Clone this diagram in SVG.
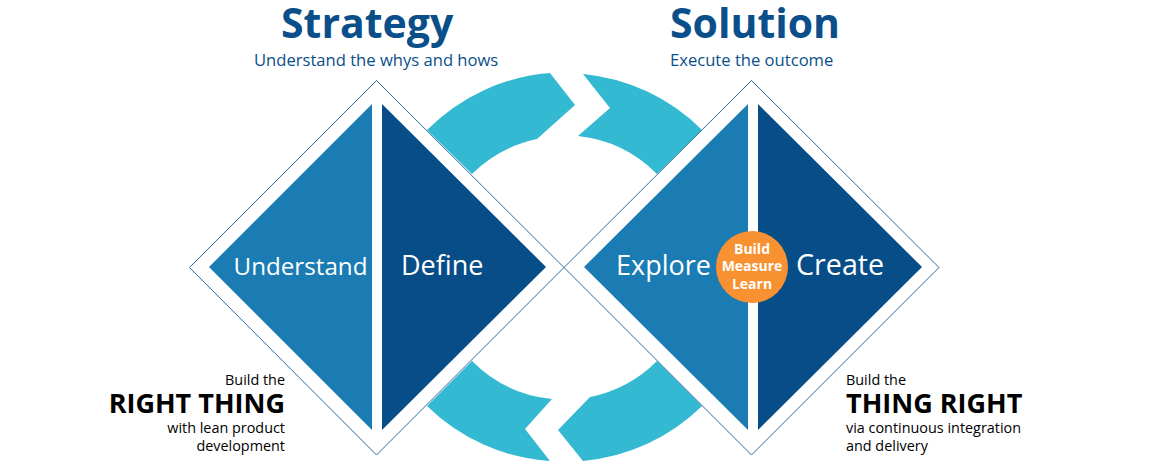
<svg xmlns="http://www.w3.org/2000/svg" width="1150" height="470" viewBox="0 0 1150 470">
<style>
text{font-family:"Open Sans","Noto Sans",sans-serif}
.title{font-size:41px;font-weight:700;fill:#0a4f8a}
.sub{font-size:16.600px;fill:#0a4f8a}
.lab{font-size:27px;fill:#fff}
.outline{fill:none;stroke:#2f6a9e;stroke-width:1}
.light{fill:#1b7cb4}
.dark{fill:#074d87}
.band{fill:#33b9d1}
.small{font-size:14.400px;fill:#000}
.big{font-size:27px;font-weight:700;fill:#000}
.bml{font-size:14px;font-weight:700;fill:#fff;text-anchor:middle}
</style>
<g id="connectors">
<path class="band" d="M427 130A194 194 0 0 1 550 73L575 105L537 139A131 131 0 0 0 472 174Z"/>
<path class="band" d="M583 74A194 194 0 0 1 702 130L657 174A131 131 0 0 0 578 136L610 108Z"/>
<path class="band" d="M427 406A194 194 0 0 0 550 461L525 429L552 399A131 131 0 0 1 472 361Z"/>
<path class="band" d="M702 406A194 194 0 0 1 583 461L558 430L590 397A131 131 0 0 0 657 361Z"/>
</g>
<g id="diamond-strategy">
<path class="outline" d="M376.500 80.500L564 267.500L376.500 455L189.500 267.500Z"/>
</g>
<g id="diamond-solution">
<path class="outline" d="M751.500 80.500L939 267.500L751.500 455L564 267.500Z"/>
</g>
<g id="understand">
<path class="light" d="M372 104V430L209 267Z"/>
<text class="lab" x="233.500" y="274.500" style="font-size:24.200px">Understand</text>
</g>
<g id="define">
<path class="dark" d="M382 104L546 267L382 430Z"/>
<text class="lab" x="401" y="275">Define</text>
</g>
<g id="explore">
<path class="light" d="M748 104V430L584 267Z"/>
<text class="lab" x="616" y="275">Explore</text>
</g>
<g id="create">
<path class="dark" d="M758 104L922 267L758 430Z"/>
<text class="lab" x="796" y="275" style="font-size:28.700px">Create</text>
</g>
<g id="build-measure-learn">
<circle cx="752" cy="267" r="36" fill="#f79131"/>
<text class="bml" x="752" y="254">Build</text>
<text class="bml" x="752" y="271">Measure</text>
<text class="bml" x="752" y="289">Learn</text>
</g>
<g id="strategy-heading">
<text class="title" x="281" y="38">Strategy</text>
<text class="sub" x="254" y="66">Understand the whys and hows</text>
</g>
<g id="solution-heading">
<text class="title" x="670" y="38">Solution</text>
<text class="sub" x="670" y="66">Execute the outcome</text>
</g>
<g id="right-thing" text-anchor="end">
<text class="small" x="285" y="385">Build the</text>
<text class="big" x="285" y="412.500">RIGHT THING</text>
<text class="small" x="285" y="433">with lean product</text>
<text class="small" x="285" y="451">development</text>
</g>
<g id="thing-right">
<text class="small" x="846" y="385">Build the</text>
<text class="big" x="846" y="412.500">THING RIGHT</text>
<text class="small" x="846" y="433">via continuous integration</text>
<text class="small" x="846" y="451">and delivery</text>
</g>
</svg>
